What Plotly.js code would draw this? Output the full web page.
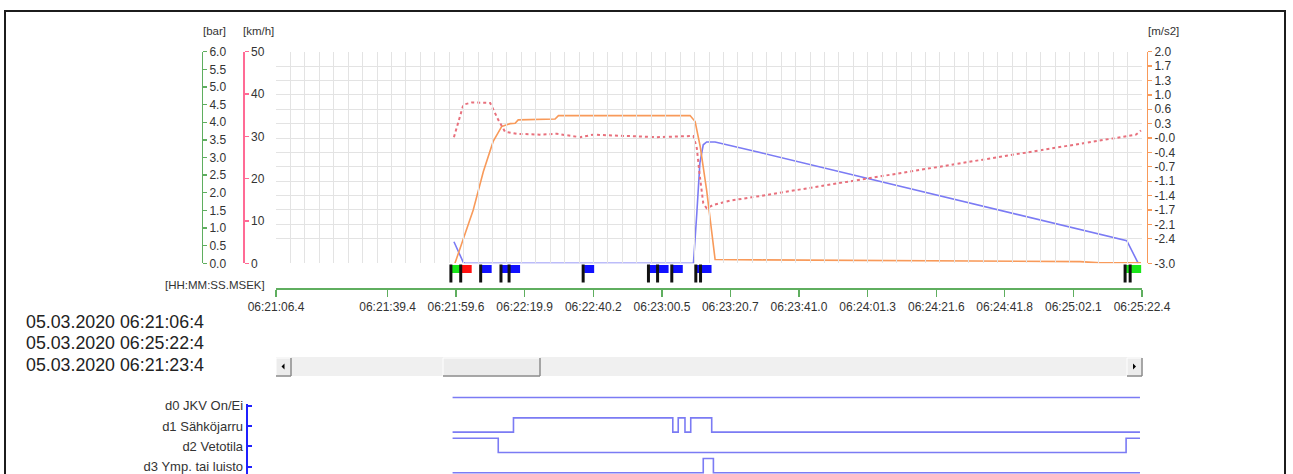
<!DOCTYPE html>
<html><head><meta charset="utf-8">
<script src="https://cdn.plot.ly/plotly-3.0.1.min.js"></script>
<style>html,body{margin:0;padding:0;background:#fff;overflow:hidden;width:1293px;height:474px}#chart{width:1293px;height:492px}</style>
</head><body><div id="chart"></div>
<script>
// ---------------- data ----------------
const DAY = '2020-03-05 ';
// speed [km/h]
const speedTime = ['06:21:59.3','06:22:04.7','06:22:07.7','06:22:10.6','06:22:13.1','06:22:15.6','06:22:17.1','06:22:18.0','06:22:28.9','06:22:29.9','06:23:08.8','06:23:10.3','06:23:11.8','06:23:13.7','06:23:16.2','06:23:29.5','06:25:04.1','06:25:10.0','06:25:22.1'];
const speedKmh  = [0, 12.6, 21.7, 28.8, 32.3, 33.0, 33.1, 33.9, 34.1, 34.9, 34.9, 33.5, 27.6, 17.3, 0.9, 0.8, 0.4, 0.1, 0.1];
// acceleration [m/s2]
const accelTime = ['06:21:59.0','06:22:01.8','06:22:04.3','06:22:09.7','06:22:12.1','06:22:14.1','06:22:17.6','06:22:24.4','06:22:29.4','06:22:36.3','06:22:40.2','06:22:51.0','06:22:58.9','06:23:09.8','06:23:10.8','06:23:11.7','06:23:12.7','06:23:13.7','06:23:15.7','06:23:20.6','06:23:29.5','06:25:20.6','06:25:22.1'];
const accelMs2  = [-0.02, 0.75, 0.80, 0.79, 0.39, 0.11, 0.06, 0.04, 0.06, -0.02, 0.04, 0.01, -0.02, 0.01, -0.28, -0.95, -1.58, -1.70, -1.62, -1.52, -1.41, 0.04, 0.14];
// brake pressure [bar]
const brakeTime = ['06:21:59.0','06:22:01.8','06:22:02.3','06:23:09.8','06:23:10.8','06:23:11.7','06:23:12.7','06:23:13.7','06:23:16.2','06:23:29.5','06:25:17.9','06:25:21.3'];
const brakeBar  = [0.61, 0.02, 0, 0, 1.42, 2.84, 3.36, 3.44, 3.44, 3.14, 0.64, 0];
// digital signals
const digitalNames = ['d0 JKV On/Ei', 'd1 Sähköjarru', 'd2 Vetotila', 'd3 Ymp. tai luisto'];
const d0Time = ['06:21:58.6','06:25:21.8'];
const d0State = [1, 1];
const d1Time = ['06:21:58.6','06:22:16.6','06:23:03.7','06:23:05.3','06:23:07.3','06:23:09.0','06:23:15.2','06:25:21.8'];
const d1State = [0, 1, 0, 1, 0, 1, 0, 0];
const d2Time = ['06:21:58.6','06:22:12.1','06:25:17.7','06:25:21.8'];
const d2State = [1, 0, 1, 1];
const d3Time = ['06:21:58.6','06:23:12.7','06:23:15.7','06:25:21.8'];
const d3State = [0, 1, 0, 0];
// event flags
const eventTime = ['06:21:58.1','06:22:01.0','06:22:06.9','06:22:12.9','06:22:15.3','06:22:37.2','06:22:56.5','06:22:59.2','06:23:03.4','06:23:10.5','06:23:11.9','06:25:17.4','06:25:18.9'];
const eventType = ['start','stop','info','info','info','info','info','info','info','info','info','start','start'];
// ticks
const xTickTime = ['06:21:06.4','06:21:39.4','06:21:59.6','06:22:19.9','06:22:40.2','06:23:00.5','06:23:20.7','06:23:41.0','06:24:01.3','06:24:21.6','06:24:41.8','06:25:02.1','06:25:22.4'];
const xTickText = xTickTime.slice();
const accelTickVals = [2.0, 1.66, 1.32, 0.98, 0.64, 0.30, -0.04, -0.38, -0.72, -1.06, -1.40, -1.74, -2.08, -2.42, -3.0];
const accelTickText = ['2.0','1.7','1.3','1.0','0.6','0.3','-0.0','-0.4','-0.7','-1.1','-1.4','-1.7','-2.1','-2.4','-3.0'];
const dateLines = ['05.03.2020 06:21:06:4', '05.03.2020 06:25:22:4', '05.03.2020 06:21:23:4'];

// ---------------- styling ----------------
const W = 1293, H = 492;
const px = x => x / W;
const py = y => 1 - y / H;
const T = t => DAY + t;
const GREEN = '#5fae5f', PINK = '#ff6b95', ORANGE = '#f89a5a', BLUE = '#7b7bf4', RED = '#e8707c', DBLUE = '#2020ff';
const FLAGCOL = {start: '#19e619', stop: '#ff1010', info: '#1010ff'};
const TXT = '#333';
const GRID = '#e3e3e3';

const traces = [
  {x: brakeTime.map(T), y: brakeBar, xaxis: 'x', yaxis: 'y', mode: 'lines', line: {color: BLUE, width: 1.6}, hoverinfo: 'skip'},
  {x: speedTime.map(T), y: speedKmh, xaxis: 'x', yaxis: 'y2', mode: 'lines', line: {color: ORANGE, width: 1.6}, hoverinfo: 'skip'},
  {x: accelTime.map(T), y: accelMs2, xaxis: 'x', yaxis: 'y3', mode: 'lines', line: {color: RED, width: 2, dash: 'dot'}, hoverinfo: 'skip'}
];
const digital = [[d0Time, d0State], [d1Time, d1State], [d2Time, d2State], [d3Time, d3State]];
digital.forEach((d, i) => {
  const lane = 3 - i;
  traces.push({x: d[0].map(T), y: d[1].map(s => lane + (s ? 0.4 : -0.3)), xaxis: 'x', yaxis: 'y4',
    mode: 'lines', line: {color: BLUE, width: 1.6, shape: 'hv'}, hoverinfo: 'skip'});
});
// carriers so that the label axis and the grid axis get drawn
traces.push({x: digital.map(d => T(d[0][0])), y: [3, 2, 1, 0], xaxis: 'x', yaxis: 'y5', mode: 'markers',
  marker: {opacity: 0, size: 1}, hoverinfo: 'skip'});
traces.push({x: [0], y: [-1], xaxis: 'x2', yaxis: 'y', mode: 'markers', marker: {opacity: 0, size: 1}, hoverinfo: 'skip'});

const shapes = [];
// frame
shapes.push({type: 'rect', xref: 'paper', yref: 'paper', x0: px(5), x1: px(1285), y0: py(500), y1: py(11), line: {color: '#1c1c1c', width: 2}});
// scrollbar
const sbTop = 357, sbBot = 376;
shapes.push({type: 'rect', xref: 'paper', yref: 'paper', x0: px(276), x1: px(1142), y0: py(sbBot), y1: py(sbTop), fillcolor: '#f0f0f0', line: {width: 0}});
function button(x0, x1) {
  shapes.push({type: 'rect', xref: 'paper', yref: 'paper', x0: px(x0), x1: px(x1), y0: py(sbBot), y1: py(sbTop + 1), fillcolor: '#ececec', line: {color: '#ffffff', width: 1}});
  shapes.push({type: 'line', xref: 'paper', yref: 'paper', x0: px(x0), x1: px(x1), y0: py(sbBot), y1: py(sbBot), line: {color: '#8a8a8a', width: 1.5}});
  shapes.push({type: 'line', xref: 'paper', yref: 'paper', x0: px(x1), x1: px(x1), y0: py(sbBot), y1: py(sbTop + 1), line: {color: '#8a8a8a', width: 1.5}});
}
button(276, 291); button(443, 540); button(1127, 1142);
const mid = (sbTop + sbBot) / 2;
shapes.push({type: 'path', xref: 'paper', yref: 'paper', path: `M ${px(281.5)} ${py(mid)} L ${px(284.5)} ${py(mid - 3)} L ${px(284.5)} ${py(mid + 3)} Z`, fillcolor: '#000', line: {width: 0}});
shapes.push({type: 'path', xref: 'paper', yref: 'paper', path: `M ${px(1136)} ${py(mid)} L ${px(1133)} ${py(mid - 3)} L ${px(1133)} ${py(mid + 3)} Z`, fillcolor: '#000', line: {width: 0}});
// event flags
eventTime.forEach((t, i) => {
  shapes.push({type: 'rect', xref: 'x', yref: 'paper', xsizemode: 'pixel', xanchor: T(t), x0: 1, x1: 11,
    y0: py(273), y1: py(265), fillcolor: FLAGCOL[eventType[i]], line: {width: 0}});
});
eventTime.forEach((t) => {
  shapes.push({type: 'rect', xref: 'x', yref: 'paper', xsizemode: 'pixel', xanchor: T(t), x0: -1.5, x1: 1.5,
    y0: py(282.5), y1: py(264.5), fillcolor: '#111', line: {width: 0}});
});

const ann = [];
const lab = (text, x, y, xa, size, color) => ann.push({text, x: px(x), y: py(y), xref: 'paper', yref: 'paper', xanchor: xa, yanchor: 'middle', showarrow: false, font: {size: size || 11.5, color: color || TXT}});
lab('[bar]', 214, 31.5, 'center');
lab('[km/h]', 258, 31.5, 'center');
lab('[m/s2]', 1163, 31.5, 'center');
lab('[HH:MM:SS.MSEK]', 267, 285, 'right');
lab(dateLines[0], 24, 321.5, 'left', 17.8, '#222');
lab(dateLines[1], 24, 342.8, 'left', 17.8, '#222');
lab(dateLines[2], 24, 365, 'left', 17.8, '#222');

const yDom = [py(263.3), py(51.7)];
const xDom = [px(276), px(1142)];
const axStyle = (c) => ({showline: true, linecolor: c, linewidth: 1.3, tickcolor: c, ticks: 'outside', ticklen: 4, tickwidth: 1.3,
  showgrid: false, zeroline: false, fixedrange: true, tickfont: {size: 12, color: TXT}});

const layout = {
  width: W, height: H, margin: {l: 0, r: 0, t: 0, b: 0, pad: 0},
  paper_bgcolor: '#ffffff', plot_bgcolor: 'rgba(0,0,0,0)', showlegend: false,
  font: {family: '"Liberation Sans", Arial, sans-serif', size: 12, color: TXT},
  xaxis: Object.assign(axStyle(GREEN), {type: 'date', domain: xDom, anchor: 'free', position: py(288.3),
    range: [T('06:21:06.4'), T('06:25:22.4')], tickmode: 'array', tickvals: xTickTime.map(T), ticktext: xTickText, ticklen: 7}),
  xaxis2: {domain: xDom, anchor: 'y', range: [0, 60], tick0: 0, dtick: 1, showgrid: true, gridcolor: GRID, gridwidth: 1,
    showticklabels: false, ticks: '', showline: false, zeroline: false, fixedrange: true},
  yaxis: Object.assign(axStyle(GREEN), {domain: yDom, range: [0, 6], tick0: 0, dtick: 0.5, tickformat: '.1f', anchor: 'free', position: px(201.7), side: 'right'}),
  yaxis2: Object.assign(axStyle(PINK), {overlaying: 'y', range: [0, 50], tick0: 0, dtick: 10, anchor: 'free', position: px(243.3), side: 'right'}),
  yaxis3: Object.assign(axStyle(ORANGE), {overlaying: 'y', range: [-3, 2], tickmode: 'array', tickvals: accelTickVals, ticktext: accelTickText,
    anchor: 'free', position: px(1146.7), side: 'right', showgrid: true, gridcolor: GRID}),
  yaxis4: {domain: [0, py(390)], range: [3 + (405.7 - H) / 20.33, 3 + (405.7 - 390) / 20.33], visible: false, fixedrange: true, anchor: 'x'},
  yaxis5: Object.assign(axStyle(DBLUE), {domain: [0, py(404)], range: [3 + (405.7 - H) / 20.33, 3 + 1.7 / 20.33], anchor: 'free', position: px(246.7), side: 'left',
    tickmode: 'array', tickvals: [3, 2, 1, 0], ticktext: digitalNames, ticks: 'inside', ticklen: 4, linewidth: 2, tickwidth: 2, tickfont: {size: 13, color: TXT}}),
  shapes: shapes,
  annotations: ann
};

Plotly.newPlot('chart', traces, layout, {staticPlot: true, displayModeBar: false});
</script></body></html>
